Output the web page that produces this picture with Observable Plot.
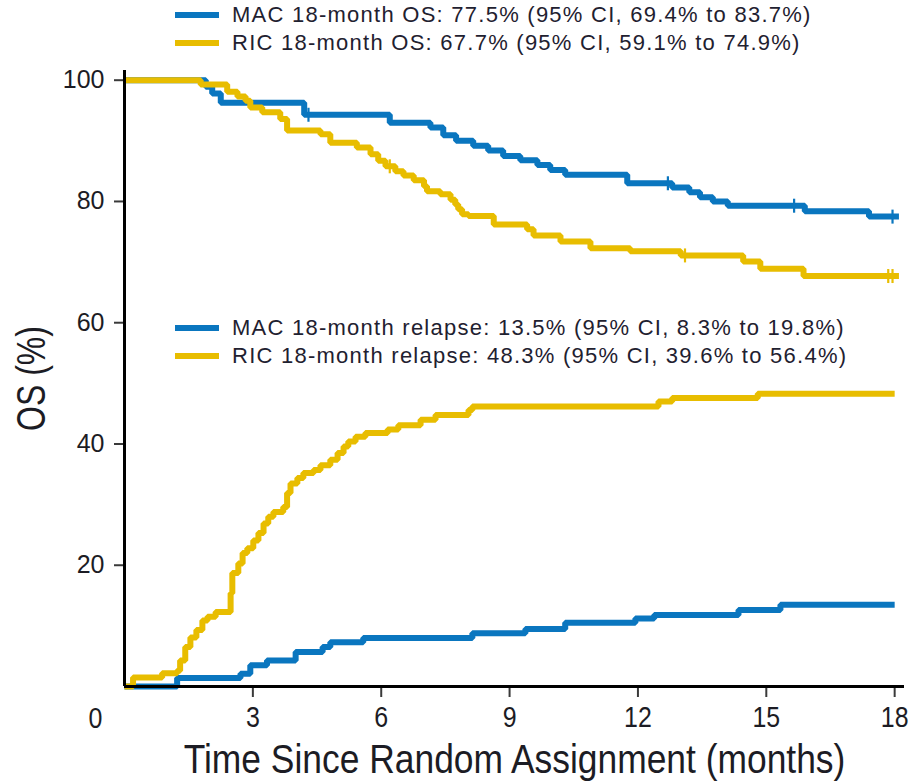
<!DOCTYPE html>
<html>
<head>
<meta charset="utf-8">
<script src="https://cdn.jsdelivr.net/npm/d3@7"></script>
<script src="https://cdn.jsdelivr.net/npm/@observablehq/plot@0.6"></script>
<style>
  html, body { margin: 0; padding: 0; background: #fff; }
  #wrap { position: relative; width: 911px; height: 784px; overflow: hidden; }
  .legend { position: absolute; left: 175px; font-family: "Liberation Sans", Arial, sans-serif;
            font-size: 22px; letter-spacing: 1.25px; color: #1f2130; line-height: 28px; }
  .legend .row { display: flex; align-items: center; height: 28px; white-space: nowrap; }
  .legend .sw { width: 44px; height: 6px; margin-right: 13px; flex: none; }
</style>
</head>
<body>
<div id="wrap"></div>
<script>
// Kaplan–Meier overall survival and cumulative incidence of relapse, MAC vs RIC
const macColor = "#0a76bf";
const ricColor = "#e8bd00";

const xTicks = [3, 6, 9, 12, 15, 18];
const yTicks = [20, 40, 60, 80, 100];

// Overall survival, MAC arm (step times in months, survival %)
const macOsTime  = [0, 1.9, 2.05, 2.25, 4.2, 6.2, 7.15, 7.45, 7.75, 8.15, 8.5, 8.85, 9.25, 9.65, 9.95, 10.3, 11.75, 12.8, 13.2, 13.45, 13.75, 14.1, 15.9, 17.4, 18.1];
const macOsValue = [100, 98.9, 97.8, 96.3, 94.3, 93.0, 92.2, 90.9, 90.0, 89.2, 88.4, 87.5, 86.8, 86.0, 85.2, 84.4, 83.0, 82.3, 81.5, 80.7, 80.0, 79.3, 78.4, 77.5, 77.5];

// Overall survival, RIC arm
const ricOsTime  = [0, 1.78, 2.4, 2.64, 2.83, 2.94, 3.22, 3.64, 3.8, 4.58, 4.81, 5.43, 5.75, 5.93, 6.1, 6.33, 6.52, 6.76, 7.0, 7.07, 7.38, 7.62, 7.73, 7.8, 7.89, 8.04, 8.63, 9.41, 9.56, 10.19, 10.89, 11.82, 13.0, 14.46, 14.86, 15.87, 18.1];
const ricOsValue = [100, 99.3, 98.1, 97.3, 96.6, 95.5, 94.7, 93.6, 91.7, 91.1, 89.7, 88.9, 87.8, 86.7, 85.8, 85.0, 84.3, 83.5, 82.5, 81.7, 81.2, 80.3, 79.5, 78.7, 77.9, 77.6, 76.2, 75.4, 74.4, 73.4, 72.3, 71.8, 71.1, 70.1, 68.9, 67.7, 67.7];

// Cumulative incidence of relapse, MAC arm
const macRelTime  = [0, 1.23, 2.71, 2.94, 3.33, 4.0, 4.63, 4.81, 5.58, 8.13, 9.37, 10.3, 11.94, 12.38, 14.35, 15.33, 18.0];
const macRelValue = [0, 1.4, 2.1, 3.5, 4.3, 5.7, 6.5, 7.3, 8.0, 8.8, 9.5, 10.5, 11.2, 11.8, 12.6, 13.5, 13.5];

// Cumulative incidence of relapse, RIC arm
const ricRelTime  = [0, 0.2, 0.88, 1.23, 1.3, 1.42, 1.54, 1.68, 1.82, 1.94, 2.13, 2.48, 2.52, 2.66, 2.76, 2.87, 3.01, 3.13, 3.25, 3.36, 3.48, 3.71, 3.8, 3.88, 4.04, 4.18, 4.42, 4.58, 4.81, 4.98, 5.12, 5.23, 5.4, 5.63, 6.15, 6.4, 6.92, 7.27, 8.04, 8.13, 12.48, 12.8, 14.8, 18.0];
const ricRelValue = [0, 1.5, 2.2, 2.6, 4.3, 6.5, 8.1, 9.3, 10.9, 11.5, 12.3, 15.4, 18.7, 20.3, 22.0, 22.8, 24.1, 25.3, 26.9, 28.0, 28.8, 29.6, 31.9, 33.5, 34.4, 35.2, 35.7, 36.5, 37.4, 38.5, 39.6, 40.4, 41.2, 41.8, 42.4, 43.1, 44.0, 44.8, 45.6, 46.2, 47.0, 47.6, 48.3, 48.3];

// Censoring marks on the survival curves
const macCensorTime  = [4.3, 12.7, 15.65, 17.95];
const macCensorValue = [94.3, 83.0, 79.3, 77.5];
const ricCensorTime  = [6.2, 13.1, 17.85, 17.95];
const ricCensorValue = [85.8, 71.1, 67.7, 67.7];

const osLegend = [
  {label: "MAC 18-month OS: 77.5% (95% CI, 69.4% to 83.7%)", color: macColor},
  {label: "RIC 18-month OS: 67.7% (95% CI, 59.1% to 74.9%)", color: ricColor}
];
const relapseLegend = [
  {label: "MAC 18-month relapse: 13.5% (95% CI, 8.3% to 19.8%)", color: macColor},
  {label: "RIC 18-month relapse: 48.3% (95% CI, 39.6% to 56.4%)", color: ricColor}
];

const xTitle = "Time Since Random Assignment (months)";
const yTitle = "OS (%)";

const toRows = (t, v) => t.map((d, i) => ({t: d, v: v[i]}));

// vertical bar used as the censoring glyph
const vbar = {
  draw(context, size) {
    const h = Math.sqrt(size / Math.PI);
    context.moveTo(0, -h);
    context.lineTo(0, h);
  }
};

const stepLine = (rows, color) => Plot.line(rows, {
  x: "t", y: "v", curve: "step-after", stroke: color, strokeWidth: 6,
  strokeLinecap: "butt", strokeLinejoin: "miter"
});

const censor = (rows, color) => Plot.dot(rows, {
  x: "t", y: "v", symbol: vbar, r: 7, stroke: color, strokeWidth: 2.2, fill: "none"
});

const chart = Plot.plot({
  width: 911,
  height: 784,
  marginTop: 70,
  marginBottom: 98,
  marginLeft: 124,
  marginRight: 7,
  style: {fontFamily: "'Liberation Sans', Arial, sans-serif", color: "#1c1c24", background: "#fff"},
  x: {domain: [0, 18.23]},
  y: {domain: [0, 101.6]},
  marks: [
    stepLine(toRows(macOsTime, macOsValue), macColor),
    stepLine(toRows(ricOsTime, ricOsValue), ricColor),
    stepLine(toRows(macRelTime, macRelValue), macColor),
    stepLine(toRows(ricRelTime, ricRelValue), ricColor),
    censor(toRows(macCensorTime, macCensorValue), macColor),
    censor(toRows(ricCensorTime, ricCensorValue), ricColor),
    Plot.axisY({ticks: yTicks, tickSize: 10, tickPadding: 10, fontSize: 25, strokeWidth: 2, stroke: "#3a3a3a", label: null}),
    Plot.axisX({ticks: xTicks, tickSize: 11, tickPadding: 9, fontSize: 29, strokeWidth: 2, stroke: "#3a3a3a", label: null}),
    Plot.ruleX([0], {stroke: "#000", strokeWidth: 3}),
    Plot.ruleY([0], {stroke: "#000", strokeWidth: 3}),
    // shared origin label
    Plot.text([0], {x: d => d, y: d => d, text: d => String(d), dx: -29, dy: 32, fontSize: 29, lineAnchor: "middle"}),
    Plot.text([xTitle], {frameAnchor: "bottom", dy: 74, lineAnchor: "middle", textAnchor: "middle", fontSize: 40}),
    Plot.text([yTitle], {frameAnchor: "left", dx: -92, rotate: -90, lineAnchor: "middle", textAnchor: "middle", fontSize: 40})
  ]
});

const wrap = document.getElementById("wrap");
wrap.appendChild(chart);

// squeeze glyphs horizontally to get a condensed face for the x-axis numbers and the titles
function condense(sel, ratio) {
  sel.each(function() {
    const len = this.getComputedTextLength();
    if (len > 0) {
      this.setAttribute("textLength", (len * ratio).toFixed(1));
      this.setAttribute("lengthAdjust", "spacingAndGlyphs");
    }
  });
}
const svg = d3.select(chart);
condense(svg.selectAll('g[aria-label="x-axis tick label"] text'), 0.86);
svg.selectAll('g[aria-label="text"] text').each(function() {
  const t = this.textContent;
  const ratio = t === xTitle ? 0.885 : t === yTitle ? 0.8 : 0.86;
  condense(d3.select(this), ratio);
});

function addLegend(items, top) {
  const box = document.createElement("div");
  box.className = "legend";
  box.style.top = top + "px";
  for (const it of items) {
    const row = document.createElement("div");
    row.className = "row";
    const sw = document.createElement("span");
    sw.className = "sw";
    sw.style.background = it.color;
    const tx = document.createElement("span");
    tx.textContent = it.label;
    row.appendChild(sw);
    row.appendChild(tx);
    box.appendChild(row);
  }
  wrap.appendChild(box);
}
addLegend(osLegend, 1);
addLegend(relapseLegend, 314);
</script>
</body>
</html>
